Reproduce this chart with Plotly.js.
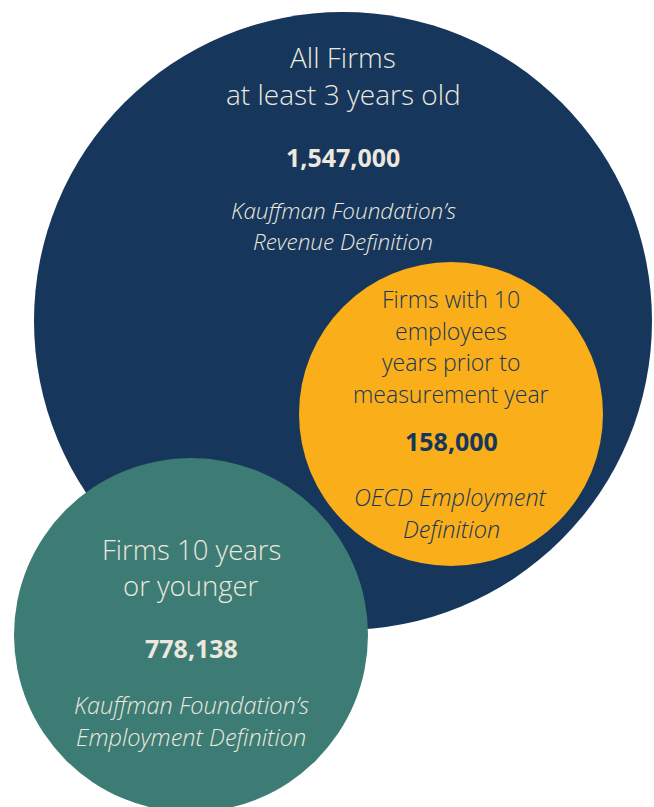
<!DOCTYPE html>
<html><head><meta charset="utf-8">
<script src="https://cdn.plot.ly/plotly-3.0.1.min.js"></script>
<style>html,body{margin:0;padding:0;background:#fff}#chart{width:654px;height:807px}</style>
</head><body><div id="chart"></div>
<script>
// Data
const groups = ["All Firms at least 3 years old", "Firms with 10 employees years prior to measurement year", "Firms 10 years or younger"];
const titleLines = [
  ["All Firms", "at least 3 years old"],
  ["Firms with 10", "employees", "years prior to", "measurement year"],
  ["Firms 10 years", "or younger"]
];
const counts = [1547000, 158000, 778138];
const countLabels = ["1,547,000", "158,000", "778,138"];
const definitions = [
  ["Kauffman Foundation’s", "Revenue Definition"],
  ["OECD Employment", "Definition"],
  ["Kauffman Foundation’s", "Employment Definition"]
];

// Layout (illustrative geometry, pixels in axis units)
const geom = [
  {cx: 343, cy: 321, r: 309, fill: "#16365C", text: "#ECE8DE",
   titleY: [57, 94], titleSize: 28, countY: 157, defY: [210, 241], defSize: 22.5},
  {cx: 451, cy: 414, r: 152, fill: "#F9AE1A", text: "#16365C",
   titleY: [299, 330.5, 362, 393.5], titleSize: 23, countY: 441, defY: [497, 529], defSize: 23.5},
  {cx: 191, cy: 635, r: 177, fill: "#3D7C75", text: "#ECE8DE",
   titleY: [549, 585], titleSize: 27.5, countY: 648, defY: [705, 737], defSize: 23.5}
];

const shapes = geom.map(g => ({
  type: "circle", xref: "x", yref: "y", layer: "below",
  x0: g.cx - g.r, x1: g.cx + g.r, y0: g.cy - g.r, y1: g.cy + g.r,
  fillcolor: g.fill, line: {width: 0}
}));

const FONT = "'Open Sans', sans-serif";
const annotations = [];
geom.forEach((g, i) => {
  titleLines[i].forEach((t, j) => annotations.push({
    x: g.cx, y: g.titleY[j], xref: "x", yref: "y", text: t, showarrow: false,
    xanchor: "center", yanchor: "middle",
    font: {family: FONT, size: g.titleSize, color: g.text, weight: 300}
  }));
  annotations.push({
    x: g.cx, y: g.countY, xref: "x", yref: "y", text: "<b>" + countLabels[i] + "</b>",
    showarrow: false, xanchor: "center", yanchor: "middle",
    font: {family: FONT, size: 25, color: g.text}
  });
  definitions[i].forEach((t, j) => annotations.push({
    x: g.cx, y: g.defY[j], xref: "x", yref: "y", text: t, showarrow: false,
    xanchor: "center", yanchor: "middle",
    font: {family: FONT, size: g.defSize, color: g.text, style: "italic", weight: 300}
  }));
});

const trace = {
  x: geom.map(g => g.cx), y: geom.map(g => g.cy), type: "scatter", mode: "markers",
  marker: {size: 1, opacity: 0}, hoverinfo: "text",
  text: groups.map((gname, i) => gname + ": " + counts[i].toLocaleString("en-US")),
  showlegend: false
};

Plotly.newPlot("chart", [trace], {
  width: 654, height: 807,
  margin: {l: 0, r: 0, t: 0, b: 0},
  paper_bgcolor: "#fff", plot_bgcolor: "#fff",
  xaxis: {range: [0, 654], visible: false, fixedrange: true},
  yaxis: {range: [807, 0], visible: false, fixedrange: true},
  shapes: shapes, annotations: annotations, showlegend: false
}, {displayModeBar: false, staticPlot: true});
</script></body></html>
